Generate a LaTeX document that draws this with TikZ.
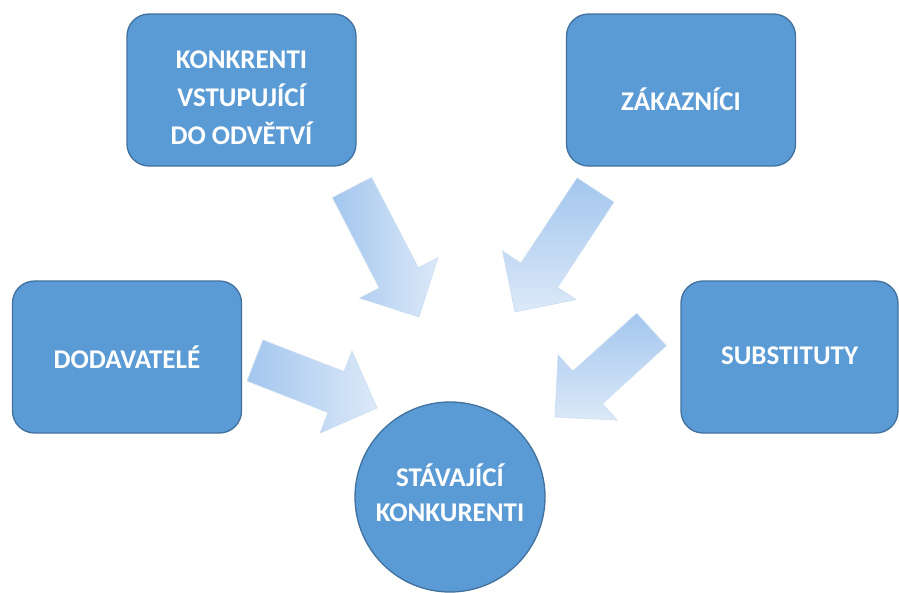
\documentclass[tikz,border=0pt]{standalone}
\usepackage{fontspec}
\setmainfont{Carlito}
\usetikzlibrary{calc}
\definecolor{boxfill}{HTML}{5B9BD5}
\definecolor{boxedge}{HTML}{41719C}
\definecolor{arrdark}{HTML}{A3C6EE}
\definecolor{arrlight}{HTML}{DCE9F8}
\definecolor{arredge}{HTML}{CADDF2}
\newcommand\fatarrow[3]{%
  \coordinate (neck) at ($(#2)!44pt!(#1)$);
  \path[blockarrow,#3]
    ($(#1)!22pt!90:(#2)$) -- ($(neck)!22pt!90:(#2)$) -- ($(neck)!44pt!90:(#2)$) -- (#2)
    -- ($(neck)!44pt!-90:(#2)$) -- ($(neck)!22pt!-90:(#2)$) -- ($(#1)!22pt!-90:(#2)$) -- cycle;
}
\begin{document}
\begin{tikzpicture}[x=1pt,y=-1pt,
  force/.style={draw=boxedge, line width=1.3pt, fill=boxfill, rounded corners=22pt,
    minimum width=229pt, minimum height=152pt, inner sep=0pt},
  core/.style={circle, draw=boxedge, line width=1.3pt, fill=boxfill, minimum size=190pt,
    inner sep=0pt},
  lbl/.style={text=white, font=\bfseries\fontsize{27}{38}\selectfont, align=center, inner sep=0pt},
  blockarrow/.style={draw=arredge, line width=0.6pt}]
\useasboundingbox (0,0) rectangle (899,592);
\fill[white] (0,0) rectangle (899,592);

\node[force, label={[lbl, yshift=-8pt]center:{KONKRENTI\\VSTUPUJÍCÍ\\DO ODVĚTVÍ}}] (entrants) at (241.5,90) {};
\node[force, label={[lbl, yshift=-9pt]center:{ZÁKAZNÍCI}}] (buyers) at (681,90) {};
\node[force, label={[lbl]center:{DODAVATELÉ}}] (suppliers) at (127,357) {};
\node[force, minimum width=217pt, label={[lbl, yshift=1pt]center:{SUBSTITUTY}}] (subst) at (789.5,357) {};
\node[core, label={[lbl, yshift=4pt, font=\bfseries\fontsize{27}{35}\selectfont]center:{STÁVAJÍCÍ\\KONKURENTI}}] (rivals) at (450,497) {};

\coordinate (t1) at (352,187.5); \coordinate (h1) at (419,317);
\coordinate (t2) at (595.5,190); \coordinate (h2) at (515,312);
\coordinate (t3) at (255,360.5); \coordinate (h3) at (377,408);
\coordinate (t4) at (651.5,329.5); \coordinate (h4) at (555,417);

\fatarrow{t1}{h1}{left color=arrdark, right color=arrlight}
\fatarrow{t2}{h2}{top color=arrdark, bottom color=arrlight}
\fatarrow{t3}{h3}{left color=arrdark, right color=arrlight}
\fatarrow{t4}{h4}{top color=arrdark, bottom color=arrlight}
\end{tikzpicture}
\end{document}
